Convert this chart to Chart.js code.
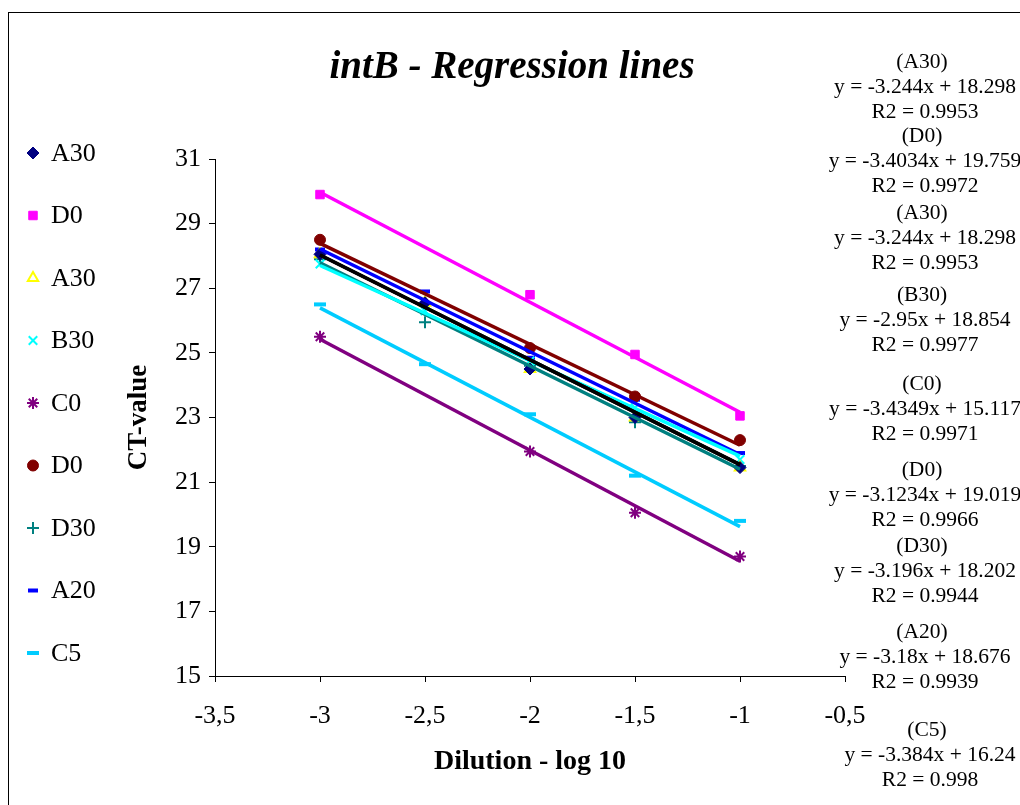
<!DOCTYPE html>
<html>
<head>
<meta charset="utf-8">
<script src="https://cdn.jsdelivr.net/npm/chart.js@4.4.0/dist/chart.umd.min.js"></script>
<style>
    html, body { margin: 0; padding: 0; background: #fff; }
    #wrap { width: 1020px; height: 805px; position: relative; }
</style>
</head>
<body>
<div id="wrap"><canvas id="regressionChart"></canvas></div>
<script>
// dilution steps (log 10) on the x axis
let dilutions = [-3, -2.5, -2, -1.5, -1];

// series, in legend order
let seriesNames = ['A30', 'D0', 'A30', 'B30', 'C0', 'D0', 'D30', 'A20', 'C5'];

// CT values, null where no marker is shown
let a30Values = [28.05, 26.55, 24.5, 23.0, 21.45];
let d0Values = [29.9, null, 26.8, 24.95, 23.05];
let a30bValues = [28.05, 26.55, 24.5, 23.0, 21.45];
let b30Values = [27.75, 26.3, 24.75, 23.3, 21.7];
let c0Values = [25.5, null, 21.95, 20.05, 18.7];
let d0bValues = [28.5, null, 25.15, 23.65, 22.3];
let d30Values = [27.9, 25.95, 24.6, 22.85, 21.5];
let a20Values = [28.2, 26.9, 24.85, 23.55, 21.9];
let c5Values = [26.5, 24.65, 23.1, 21.2, 19.8];

// trendline equations as printed on the chart
let slopes = [-3.244, -3.4034, -3.244, -2.95, -3.4349, -3.1234, -3.196, -3.18, -3.384];
let intercepts = [18.298, 19.759, 18.298, 18.854, 15.117, 19.019, 18.202, 18.676, 16.24];
let rSquared = ['0.9953', '0.9972', '0.9953', '0.9977', '0.9971', '0.9966', '0.9944', '0.9939', '0.998'];

let seriesValues = [a30Values, d0Values, a30bValues, b30Values, c0Values, d0bValues, d30Values, a20Values, c5Values];

// styling
let markerColors = ['#000080', '#FF00FF', '#FFFF00', '#00FFFF', '#800080', '#800000', '#008080', '#0000FF', '#00CCFF'];
let lineColors = ['#000000', '#FF00FF', '#000000', '#00FFFF', '#800080', '#800000', '#008080', '#0000FF', '#00CCFF'];
let pointStyles = ['rectRot', 'rect', 'triangle', 'crossRot', 'star', 'circle', 'cross', 'line', 'line'];
let pointRadii = [6, 6, 6, 6, 6, 5.5, 6, 5, 6];
let pointBorders = [1, 1, 2, 2, 2, 1, 2, 4, 4];
let equationTops = [62, 136, 213, 295, 384, 470, 546, 632, 730];

let serif = '"Liberation Serif", "Times New Roman", serif';

let datasets = [];
seriesNames.forEach(function (name, index) {
    let points = [];
    seriesValues[index].forEach(function (value, i) {
        if (value !== null) {
            points.push({x: dilutions[i], y: value});
        }
    });
    datasets.push({
        label: name,
        data: points,
        pointStyle: pointStyles[index],
        pointRadius: pointRadii[index],
        pointHoverRadius: pointRadii[index],
        pointBorderWidth: pointBorders[index],
        borderColor: markerColors[index],
        backgroundColor: pointStyles[index] === 'triangle' ? 'rgba(255,255,255,0)' : markerColors[index],
        showLine: false,
        order: 1
    });
});

// linear trendlines over the measured range
seriesNames.forEach(function (name, index) {
    let first = dilutions[0];
    let last = dilutions[dilutions.length - 1];
    datasets.push({
        label: name + ' trend',
        data: [
            {x: first, y: slopes[index] * first + intercepts[index]},
            {x: last, y: slopes[index] * last + intercepts[index]}
        ],
        showLine: true,
        borderColor: lineColors[index],
        borderWidth: 3.5,
        pointRadius: 0,
        pointHoverRadius: 0,
        order: 0
    });
});

function formatEquation(index) {
    return 'y = ' + slopes[index] + 'x + ' + intercepts[index];
}

let textPlugin = {
    id: 'textPlugin',
    afterDraw: function (chart) {
        let ctx = chart.ctx;
        ctx.save();

        // outer frame
        ctx.strokeStyle = '#000';
        ctx.lineWidth = 1;
        ctx.strokeRect(8.5, 12.5, 1030, 820);

        // title
        ctx.fillStyle = '#000';
        ctx.textAlign = 'center';
        ctx.textBaseline = 'middle';
        ctx.font = 'italic bold 39px ' + serif;
        ctx.fillText('intB - Regression lines', 512, 68);

        // equations
        ctx.font = '21.5px ' + serif;
        seriesNames.forEach(function (name, index) {
            let top = equationTops[index];
            let cx = index === 8 ? 930 : 925;
            ctx.fillText('(' + name + ')', cx - 3, top);
            ctx.fillText(formatEquation(index), cx, top + 25);
            ctx.fillText('R2 = ' + rSquared[index], cx, top + 50);
        });

        // legend
        ctx.textAlign = 'left';
        ctx.font = '26px ' + serif;
        seriesNames.forEach(function (name, index) {
            let y = 153 + index * 62.5;
            let meta = chart.data.datasets[index];
            ctx.fillStyle = meta.backgroundColor;
            ctx.strokeStyle = meta.borderColor;
            ctx.lineWidth = meta.pointBorderWidth;
            Chart.helpers.drawPoint(ctx, {
                pointStyle: meta.pointStyle,
                radius: meta.pointRadius,
                rotation: 0,
                borderWidth: meta.pointBorderWidth
            }, 33, y);
            ctx.fillStyle = '#000';
            ctx.fillText(name, 51, y + 1);
        });

        ctx.restore();
    }
};

let regressionCanvas = document.getElementById('regressionChart');
let regressionChart = new Chart(regressionCanvas, {
    type: 'scatter',
    data: {
        datasets: datasets
    },
    options: {
        responsive: true,
        maintainAspectRatio: false,
        animation: false,
        layout: {
            padding: {left: 120, right: 175, top: 159, bottom: 0}
        },
        plugins: {
            legend: {display: false},
            tooltip: {enabled: false}
        },
        scales: {
            x: {
                type: 'linear',
                min: -3.5,
                max: -0.5,
                afterFit: function (scale) {
                    scale.height = 129;
                },
                ticks: {
                    stepSize: 0.5,
                    padding: 19,
                    color: '#000',
                    font: {family: serif, size: 26},
                    callback: function (value) {
                        return String(value).replace('.', ',');
                    }
                },
                grid: {
                    display: true,
                    drawOnChartArea: false,
                    drawTicks: true,
                    tickLength: 6,
                    color: '#000'
                },
                border: {display: true, color: '#000', width: 1},
                title: {
                    display: true,
                    text: 'Dilution - log 10',
                    color: '#000',
                    font: {family: serif, size: 28, weight: 'bold'},
                    padding: {top: 0, bottom: 26}
                }
            },
            y: {
                min: 15,
                max: 31,
                afterFit: function (scale) {
                    scale.width = 95;
                },
                ticks: {
                    stepSize: 2,
                    padding: 8,
                    color: '#000',
                    font: {family: serif, size: 26}
                },
                grid: {
                    display: true,
                    drawOnChartArea: false,
                    drawTicks: true,
                    tickLength: 6,
                    color: '#000'
                },
                border: {display: true, color: '#000', width: 1},
                title: {
                    display: true,
                    text: 'CT-value',
                    color: '#000',
                    font: {family: serif, size: 27, weight: 'bold'},
                    padding: {top: 3, bottom: 0}
                }
            }
        }
    },
    plugins: [textPlugin]
});
</script>
</body>
</html>
